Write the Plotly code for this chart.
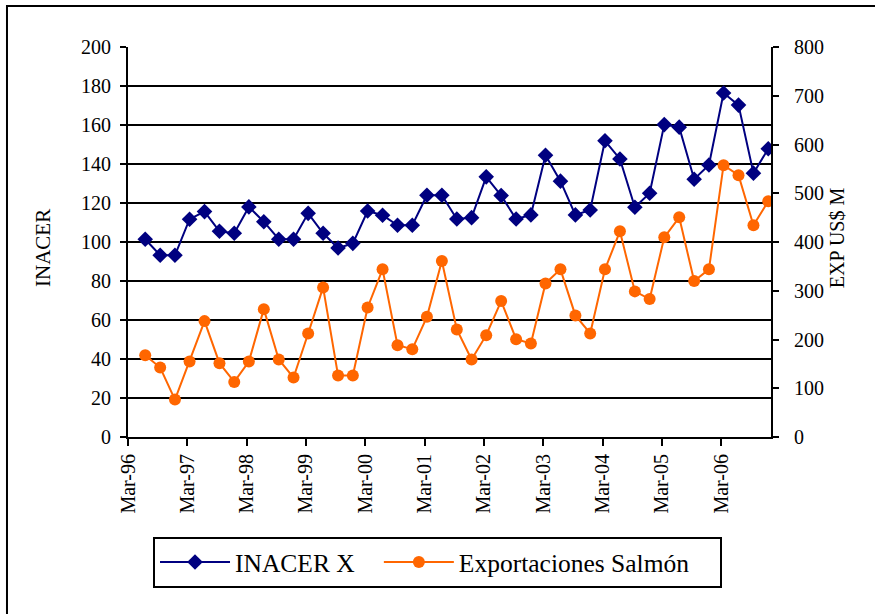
import plotly.graph_objects as go

# Quarterly observations (Jun-96 .. Dec-06)
quarters = []
for yr in range(1996, 2007):
    for m in ("03", "06", "09", "12"):
        if yr == 1996 and m == "03":
            continue
        quarters.append(f"{yr}-{m}-15")

inacer_x = [101.4, 93.2, 93.2, 111.7, 115.6, 105.5, 104.5, 118.0, 110.4, 101.4,
            101.4, 114.7, 104.5, 96.9, 99.3, 115.9, 113.7, 108.6, 108.6, 124.0,
            124.0, 111.8, 112.5, 133.4, 123.8, 111.8, 113.9, 144.5, 131.2, 113.9,
            116.4, 151.9, 142.6, 117.8, 125.0, 160.2, 158.9, 132.2, 139.5, 176.4,
            170.2, 135.3, 147.8]

export_salmon = [167.8, 142.5, 76.8, 154.9, 237.7, 151.4, 113.0, 154.9, 262.3, 159.0,
                 122.0, 212.4, 306.9, 126.1, 126.1, 265.8, 343.9, 188.4, 180.2, 246.5,
                 360.9, 220.6, 159.0, 208.9, 278.8, 200.7, 191.9, 315.1, 343.9, 249.4,
                 212.4, 343.9, 421.9, 298.7, 282.9, 409.6, 450.7, 319.8, 343.9, 557.5,
                 537.0, 434.3, 483.6]

tick_dates = [f"{yr}-03-01" for yr in range(1996, 2007)]
tick_labels = ["Mar-96", "Mar-97", "Mar-98", "Mar-99", "Mar-00", "Mar-01",
               "Mar-02", "Mar-03", "Mar-04", "Mar-05", "Mar-06"]

series_names = ["INACER X", "Exportaciones Salmón"]

FONT = "Liberation Serif"
NB = "\u00a0"

fig = go.Figure()
fig.add_trace(go.Scatter(
    x=quarters, y=inacer_x, name=series_names[0] + NB * 3, mode="lines+markers",
    line=dict(color="#000080", width=2),
    marker=dict(symbol="diamond", size=12, color="#000080"),
))
fig.add_trace(go.Scatter(
    x=quarters, y=export_salmon, name=series_names[1] + NB * 4, mode="lines+markers",
    line=dict(color="#FF6600", width=2),
    marker=dict(symbol="circle", size=12, color="#FF6600"),
    yaxis="y2",
))

fig.update_layout(
    width=875, height=614,
    margin=dict(l=128, r=104, t=47, b=177),
    paper_bgcolor="white", plot_bgcolor="white",
    font=dict(family=FONT, size=20, color="black"),
    xaxis=dict(
        type="date", range=["1996-03-01", "2007-01-01"],
        tickvals=tick_dates, ticktext=tick_labels, tickangle=-90,
        showgrid=False, showline=True, linecolor="black", linewidth=2,
        ticks="outside", ticklen=7, tickwidth=2, tickcolor="black",
        tickfont=dict(family=FONT, size=20), zeroline=False,
    ),
    yaxis=dict(
        range=[0, 200], dtick=20, showgrid=True, gridcolor="black", gridwidth=1.5,
        showline=True, linecolor="black", linewidth=2, zeroline=False,
        ticks="outside", ticklen=6, tickwidth=2, tickcolor="black",
        tickfont=dict(family=FONT, size=20), ticklabelstandoff=5,
    ),
    yaxis2=dict(
        range=[0, 800], dtick=100, overlaying="y", side="right", showgrid=False,
        showline=True, linecolor="black", linewidth=2, zeroline=False,
        ticks="outside", ticklen=6, tickwidth=2, tickcolor="black",
        tickfont=dict(family=FONT, size=20), ticklabelstandoff=11,
    ),
    legend=dict(
        orientation="h", x=0.0389, xanchor="left", y=-0.2564, yanchor="top",
        bordercolor="black", borderwidth=2, bgcolor="white",
        font=dict(family=FONT, size=25.5), itemwidth=70,
    ),
    showlegend=True,
    annotations=[
        dict(text="INACER", xref="paper", yref="paper", x=-0.1322, y=0.4846,
             xanchor="center", yanchor="middle", textangle=-90, showarrow=False,
             font=dict(family=FONT, size=21)),
        dict(text="EXP US$ M", xref="paper", yref="paper", x=1.1027, y=0.51,
             xanchor="center", yanchor="middle", textangle=-90, showarrow=False,
             font=dict(family=FONT, size=20)),
    ],
    shapes=[
        dict(type="rect", xref="paper", yref="paper",
             x0=-0.1882, x1=1.17, y0=-0.47, y1=1.1051,
             line=dict(color="black", width=2)),
    ],
)

fig.write_html("out.html", config={"displayModeBar": False})

# remove the browser's default page margin so the figure sits at (0, 0)
with open("out.html", encoding="utf-8") as f:
    html = f.read()
html = html.replace("<body>", '<body style="margin:0;overflow:hidden;">', 1)
with open("out.html", "w", encoding="utf-8") as f:
    f.write(html)
